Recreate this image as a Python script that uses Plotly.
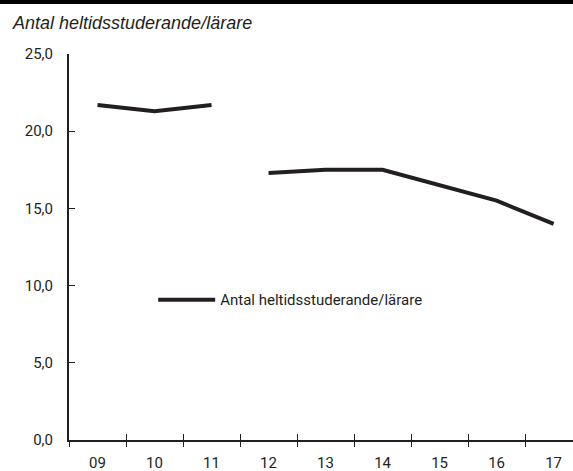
import plotly.graph_objects as go

years = ["09", "10", "11", "12", "13", "14", "15", "16", "17"]
values = [21.7, 21.3, 21.7, 17.3, 17.5, 17.5, 16.5, 15.5, 14.0]
break_after = 3  # the line is interrupted between 11 and 12
series_name = "Antal heltidsstuderande/lärare"
title_text = "Antal heltidsstuderande/lärare"
y_ticks = [0, 5, 10, 15, 20, 25]

W, H = 573, 471
L, R, T, B = 69, 0, 54, 31
PW, PH = W - L - R, H - T - B

cond_font = "Roboto, Liberation Sans, sans-serif"
ink = "#231f20"
line_style = dict(color=ink, width=4)

fig = go.Figure()
fig.add_trace(go.Scatter(x=years[:break_after], y=values[:break_after], mode="lines",
                         line=line_style, name=series_name, legendgroup="a", showlegend=True))
fig.add_trace(go.Scatter(x=years[break_after:], y=values[break_after:], mode="lines",
                         line=line_style, name=series_name, legendgroup="a", showlegend=False))
# helper trace for the overlaid axis carrying the outside tick marks
fig.add_trace(go.Scatter(x=years, y=values, mode="lines", xaxis="x2", yaxis="y",
                         line=dict(width=0), opacity=0, showlegend=False, hoverinfo="skip"))

axis_font = dict(family=cond_font, size=15, color=ink)
x_range = [-0.5, 8.34]
fig.update_layout(
    width=W, height=H,
    margin=dict(l=L, r=R, t=T, b=B, autoexpand=False),
    plot_bgcolor="white", paper_bgcolor="white",
    separators=", ",
    showlegend=True,
    legend=dict(x=0.167, y=0.363, xanchor="left", yanchor="middle",
                itemwidth=57,
                font=dict(family=cond_font, size=15, color=ink),
                bgcolor="rgba(0,0,0,0)"),
    xaxis=dict(type="category", categoryorder="array", categoryarray=years,
               range=x_range,
               showgrid=False, showline=True, linecolor=ink, linewidth=2,
               ticks="inside", ticklen=6, tickwidth=1, tickcolor=ink,
               tickson="boundaries", tickfont=axis_font, zeroline=False,
               ticklabelstandoff=8),
    xaxis2=dict(type="category", categoryorder="array", categoryarray=years,
                range=x_range, overlaying="x", side="bottom",
                showgrid=False, showline=False, ticks="outside", ticklen=6,
                tickwidth=1, tickcolor=ink, tickson="boundaries",
                showticklabels=False, zeroline=False),
    yaxis=dict(range=[0, 25], tickvals=y_ticks, tickformat=".1f",
               showgrid=False, showline=True, linecolor=ink, linewidth=2,
               ticks="inside", ticklen=6, tickwidth=1, tickcolor=ink,
               tickfont=axis_font, zeroline=False, ticklabelstandoff=11),
    annotations=[dict(text=f"<i>{title_text}</i>", xref="paper", yref="paper",
                      x=-(L - 10) / PW, y=1 + (T - 23) / PH, xanchor="left", yanchor="middle",
                      showarrow=False,
                      font=dict(family="Liberation Sans, Arial, sans-serif", size=18,
                                color=ink))],
    shapes=[dict(type="line", xref="paper", yref="paper", x0=-L / PW, x1=1 + R / PW,
                 y0=1 + (T - 2) / PH, y1=1 + (T - 2) / PH, line=dict(color="black", width=4))],
)

fig.write_html("out.html", config={"displayModeBar": False},
               post_script="document.body.style.margin='0';")
